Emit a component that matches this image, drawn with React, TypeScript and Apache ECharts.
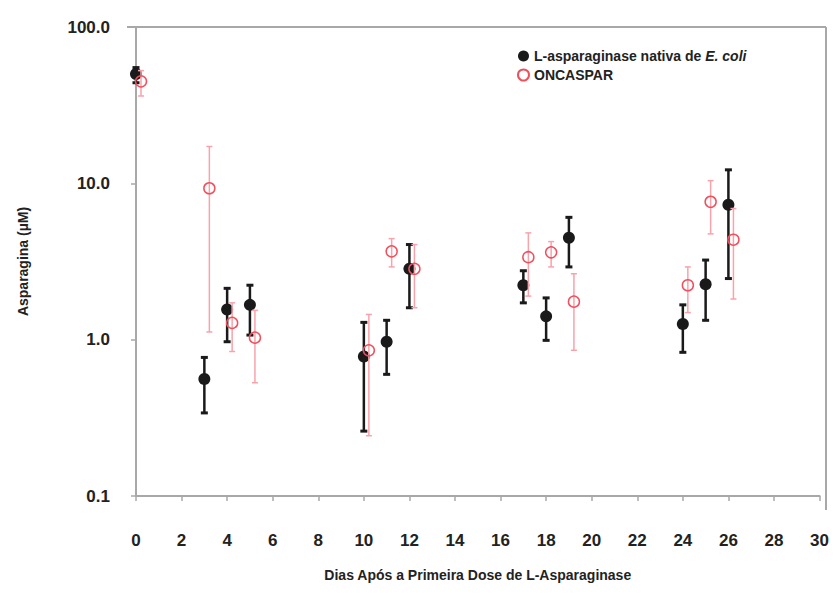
import React, { useEffect, useRef } from "react";
import * as echarts from "echarts";

// Days after first dose
const days = [0, 3, 4, 5, 10, 11, 12, 17, 18, 19, 24, 25, 26];

// L-asparaginase nativa de E. coli
const nativeMean = [50, 0.56, 1.56, 1.67, 0.78, 0.97, 2.84, 2.23, 1.41, 4.49, 1.26, 2.26, 7.3];
const nativeLow = [44, 0.34, 0.97, 1.07, 0.26, 0.6, 1.6, 1.72, 0.99, 2.92, 0.83, 1.33, 2.46];
const nativeHigh = [55, 0.77, 2.13, 2.23, 1.29, 1.33, 4.06, 2.76, 1.85, 6.06, 1.67, 3.23, 12.2];

// ONCASPAR
const oncMean = [44.9, 9.3, 1.28, 1.03, 0.855, 3.67, 2.84, 3.37, 3.62, 1.75, 2.23, 7.62, 4.36];
const oncLow = [36.2, 1.12, 0.84, 0.53, 0.243, 2.92, 1.6, 1.9, 2.92, 0.855, 1.49, 4.75, 1.82];
const oncHigh = [52.6, 17.2, 1.72, 1.54, 1.45, 4.43, 4.06, 4.82, 4.24, 2.64, 2.92, 10.4, 6.9];

const yTicks = [0.1, 1, 10, 100];

const NATIVE_NAME = "L-asparaginase nativa de E. coli";
const ONC_NAME = "ONCASPAR";
const DODGE = 0.22;

const FONT = "'Liberation Sans', Arial, Helvetica, sans-serif";

function errorRender(color: string, lineWidth: number, capWidth: number, capThick: number) {
  return (params: any, api: any) => {
    const x = api.value(0);
    const lo = api.value(1);
    const hi = api.value(2);
    const pLo = api.coord([x, lo]);
    const pHi = api.coord([x, hi]);
    const style = { stroke: color, lineWidth };
    const capStyle = { stroke: color, lineWidth: capThick };
    return {
      type: "group",
      children: [
        { type: "line", shape: { x1: pLo[0], y1: pLo[1], x2: pHi[0], y2: pHi[1] }, style },
        {
          type: "line",
          shape: { x1: pHi[0] - capWidth / 2, y1: pHi[1], x2: pHi[0] + capWidth / 2, y2: pHi[1] },
          style: capStyle,
        },
        {
          type: "line",
          shape: { x1: pLo[0] - capWidth / 2, y1: pLo[1], x2: pLo[0] + capWidth / 2, y2: pLo[1] },
          style: capStyle,
        },
      ],
    };
  };
}

export default function App() {
  const ref = useRef<HTMLDivElement>(null);

  useEffect(() => {
    if (!ref.current) return;
    const chart = echarts.init(ref.current, null, { renderer: "svg" });

    const nativeErr = days.map((d, i) => [d, nativeLow[i], nativeHigh[i]]);
    const oncErr = days.map((d, i) => [d + DODGE, oncLow[i], oncHigh[i]]);
    const nativePts = days.map((d, i) => [d, nativeMean[i]]);
    const oncPts = days.map((d, i) => [d + DODGE, oncMean[i]]);

    const axisLineStyle = { color: "#a8a8a8", width: 2 };

    chart.setOption({
      animation: false,
      backgroundColor: "#ffffff",
      textStyle: { fontFamily: FONT },
      grid: { left: 119, right: 6, top: 19, bottom: 77, containLabel: false },
      legend: {
        orient: "vertical",
        left: 504,
        top: 36,
        itemWidth: 11,
        itemHeight: 11,
        itemGap: 5,
        data: [NATIVE_NAME, ONC_NAME],
        formatter: (name: string) =>
          name === NATIVE_NAME ? "L-asparaginase nativa de {i|E. coli}" : name,
        textStyle: {
          fontFamily: FONT,
          fontSize: 14,
          fontWeight: "bold",
          color: "#222",
          rich: {
            i: { fontFamily: FONT, fontSize: 14, fontWeight: "bold", fontStyle: "italic", color: "#222" },
          },
        },
      },
      xAxis: {
        type: "value",
        min: 0,
        max: 30,
        interval: 2,
        name: "Dias Após a Primeira Dose de L-Asparaginase",
        nameLocation: "middle",
        nameGap: 72,
        nameTextStyle: { fontFamily: FONT, fontSize: 14, fontWeight: "bold", color: "#222" },
        axisLine: { show: true, lineStyle: axisLineStyle },
        axisTick: { show: true, length: 5, lineStyle: { color: "#a8a8a8", width: 1.5 } },
        axisLabel: {
          margin: 36,
          fontFamily: FONT,
          fontSize: 17,
          fontWeight: "bold",
          color: "#222",
        },
        splitLine: { show: false },
      },
      yAxis: {
        type: "log",
        logBase: 10,
        min: yTicks[0],
        max: yTicks[yTicks.length - 1],
        name: "Asparagina (µM)",
        nameLocation: "middle",
        nameGap: 106,
        nameTextStyle: { fontFamily: FONT, fontSize: 14, fontWeight: "bold", color: "#222" },
        axisLine: { show: true, lineStyle: axisLineStyle },
        axisTick: { show: true, length: 5, lineStyle: { color: "#a8a8a8", width: 1.5 } },
        minorTick: { show: false },
        axisLabel: {
          margin: 26,
          fontFamily: FONT,
          fontSize: 17,
          fontWeight: "bold",
          color: "#222",
          formatter: (v: number) => v.toFixed(1),
        },
        splitLine: { show: false },
      },
      graphic: [
        {
          type: "line",
          shape: { x1: 119, y1: 19, x2: 818, y2: 19 },
          style: { stroke: "#a8a8a8", lineWidth: 2 },
          z: 0,
        },
        {
          type: "line",
          shape: { x1: 818, y1: 19, x2: 818, y2: 502 },
          style: { stroke: "#a8a8a8", lineWidth: 2 },
          z: 0,
        },
      ],
      series: [
        {
          type: "custom",
          name: "nativeErr",
          data: nativeErr,
          encode: { x: 0, y: [1, 2] },
          clip: false,
          renderItem: errorRender("#1a1a1a", 2.5, 7, 3),
          z: 2,
        },
        {
          type: "scatter",
          name: NATIVE_NAME,
          data: nativePts,
          symbol: "circle",
          symbolSize: 12,
          clip: false,
          itemStyle: { color: "#1a1a1a", opacity: 1 },
          z: 3,
        },
        {
          type: "custom",
          name: "oncErr",
          data: oncErr,
          encode: { x: 0, y: [1, 2] },
          clip: false,
          renderItem: errorRender("#f7a3ab", 1.5, 6, 1.5),
          z: 4,
        },
        {
          type: "scatter",
          name: ONC_NAME,
          data: oncPts,
          symbol: "circle",
          symbolSize: 11,
          clip: false,
          itemStyle: { color: "rgba(255,255,255,0)", borderColor: "#f0505e", borderWidth: 1.5, opacity: 1 },
          z: 5,
        },
      ],
    });

    return () => chart.dispose();
  }, []);

  return <div ref={ref} style={{ width: 824, height: 579 }} />;
}
